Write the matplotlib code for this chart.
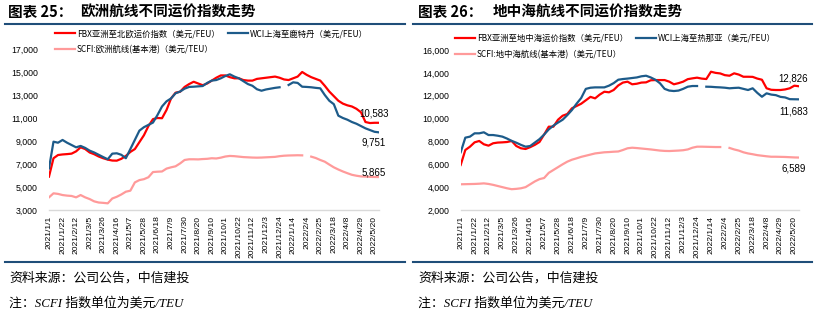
import numpy as np
import matplotlib
matplotlib.use('Agg')
import matplotlib.pyplot as plt
from matplotlib.lines import Line2D

plt.rcParams['font.family'] = ['Noto Sans CJK SC', 'DejaVu Sans']

# weekly, 2021/1/1 .. 2022/5/27 (74 points), None = missing week
tick_labels = ['2021/1/1', '2021/1/22', '2021/2/12', '2021/3/5', '2021/3/26', '2021/4/16',
               '2021/5/7', '2021/5/28', '2021/6/18', '2021/7/9', '2021/7/30', '2021/8/20',
               '2021/9/10', '2021/10/1', '2021/10/22', '2021/11/12', '2021/12/3', '2021/12/24',
               '2022/1/14', '2022/2/4', '2022/2/25', '2022/3/18', '2022/4/8', '2022/4/29',
               '2022/5/20']

eu_fbx = [5900, 7500, 7780, 7830, 7860, 7900, 8100, 8450, 8300, 8000,
          7850, 7650, 7500, 7380, 7300, 7290, 7450, 7700, 8050, 8300,
          8900, 9500, 10300, 10900, 11000, 10980, 11700, 12700, 13200, 13280,
          13700, 13950, 14150, 14000, 13850, 14000, 14250, 14500, 14700, 14700,
          14550, 14450, 14450, 14300, 14250, 14250, 14400, 14450, 14500, 14550,
          14600, 14500, 14350, 14300, 14450, 14600, 15000, 14750, 14550, 14400,
          14250, 13800, 13300, 12900, 12500, 12250, 12100, 12000, 11800, 11500,
          10650, 10560, 10583, 10583]
eu_wci = [6620, 8940, 8850, 9090, 8850, 8650, 8450, 8570, 8400, 8160,
          8000, 7800, 7600, 7410, 7900, 7930, 7800, 7500, 8300, 9100,
          9900, 10200, 10400, 10600, 11260, 12000, 12450, 12700, 13150, 13300,
          13550, 13700, 13720, 13750, 13780, 14050, 14250, 14300, 14450, 14650,
          14800, 14600, 14450, 14200, 13950, 13800, 13500, 13370, 13480, 13550,
          13620, 13670, None, 13870, 14100, 14050, 13720, 13700, 13670, 13620,
          13580, 13000, 12500, 12200, 11200, 11000, 10850, 10650, 10500, 10300,
          10100, 9950, 9800, 9751]
eu_scfi = [4100, 4450, 4400, 4300, 4250, 4220, 4100, 4300, 4100, 3950,
           3750, 3650, 3620, 3580, 4000, 4150, 4350, 4590, 4680, 5400,
           5600, 5680, 5850, 6300, 6330, 6350, 6600, 6710, 6800, 7050,
           7350, 7410, 7410, 7400, 7430, 7450, 7500, 7480, 7550, 7650,
           7700, 7680, 7640, 7600, 7580, 7560, 7550, 7560, 7580, 7600,
           7620, 7680, 7720, 7740, 7750, 7760, 7750, None, 7640, 7520,
           7350, 7200, 6950, 6710, 6520, 6350, 6200, 6060, 5980, 5920,
           5900, 5880, 5870, 5865]

med_fbx = [5940, 7250, 7540, 7920, 8040, 7750, 7630, 7840, 7900, 7920,
           7950, 8040, 7600, 7400, 7340, 7500, 7700, 7950, 8600, 9290,
           9290, 9900, 10250, 10400, 10900, 11100, 11300, 11600, 11900, 11770,
           12100, 12350, 12300, 12500, 12900, 13150, 13230, 13000, 13050, 13150,
           13170, 13350, 13370, 13370, 13370, 13230, 13000, 13100, 13230, 13450,
           13520, 13580, 13500, 13460, 14100, 14000, 13950, 13800, 13750, 13960,
           13850, 13660, 13660, 13650, 13500, 13400, 12650, 12520, 12500, 12500,
           12550, 12650, 12880, 12826]
med_wci = [7050, 8330, 8420, 8710, 8710, 8800, 8560, 8560, 8500, 8420,
           8250, 8050, 7890, 7700, 7540, 7600, 7900, 8200, 8600, 9050,
           9380, 9650, 9900, 10300, 10750, 11300, 11800, 12600, 12700, 12730,
           12730, 12730, 12880, 13100, 13400, 13460, 13500, 13550, 13600, 13700,
           13750, 13600, 13400, 13090, 12600, 12450, 12410, 12450, 12600, 12790,
           12850, 12850, None, 12790, 12780, 12750, 12730, 12700, 12650, 12680,
           12700, 12600, 12500, 12650, 12250, 11910, 12210, 12100, 12050, 11900,
           11850, 11700, 11690, 11683]
med_scfi = [4250, 4260, 4270, 4280, 4300, 4330, 4280, 4200, 4100, 4000,
            3900, 3820, 3850, 3900, 4000, 4250, 4500, 4700, 4800, 5250,
            5500, 5750, 6000, 6230, 6400, 6520, 6650, 6750, 6850, 6950,
            7000, 7050, 7070, 7100, 7120, 7250, 7400, 7450, 7420, 7380,
            7340, 7300, 7250, 7200, 7170, 7160, 7180, 7200, 7230, 7300,
            7450, 7540, 7540, 7530, 7520, 7510, 7510, None, 7430, 7300,
            7200, 7050, 6950, 6880, 6800, 6750, 6700, 6660, 6660, 6650,
            6640, 6620, 6600, 6589]

RED = '#FF0000'
BLUE = '#1D5B8A'
PINK = '#FF9A9A'
NAVY = '#1F4E79'
NUM = ['Liberation Sans', 'DejaVu Sans']


def arr(v):
    return np.array([np.nan if x is None else x for x in v], dtype=float)


def draw(ax, fbx, wci, scfi, names, ylim, labels_pos):
    x = np.arange(len(fbx))
    h1, = ax.plot(x, arr(fbx), color=RED, lw=1.6, label=names[0])
    h2, = ax.plot(x, arr(wci), color=BLUE, lw=1.6, label=names[1])
    h3, = ax.plot(x, arr(scfi), color=PINK, lw=1.6, label=names[2])
    ax.set_xlim(0, len(fbx) - 1)
    ax.set_ylim(*ylim)
    ax.set_yticks(np.arange(ylim[0], ylim[1] + 1, 2000))
    ax.set_yticklabels([f'{v:,}' for v in range(ylim[0], ylim[1] + 1, 2000)],
                       family=NUM, fontsize=6.3)
    ax.set_xticks(np.arange(0, len(fbx), 3))
    ax.set_xticklabels(tick_labels, rotation=90, family=NUM, fontsize=6.1)
    ax.tick_params(axis='both', length=0)
    ax.tick_params(axis='x', pad=4)
    ax.tick_params(axis='y', pad=8)
    for s in ['top', 'right', 'left']:
        ax.spines[s].set_visible(False)
    ax.spines['bottom'].set_color('#D9D9D9')
    ax.spines['bottom'].set_linewidth(1.0)
    # end values
    for val, yv in zip([fbx[-1], wci[-1], scfi[-1]], labels_pos):
        ax.text(len(fbx) - 2.2, yv, f'{val:,}', ha='center', va='center',
                family=NUM, fontsize=7)
    return [h1, h3, h2]


fig = plt.figure(figsize=(8.19, 3.21), dpi=100)

ax1 = fig.add_axes([0.0598, 0.3458, 0.4030, 0.5016])
ax2 = fig.add_axes([0.5625, 0.3458, 0.4131, 0.4984])

hs1 = draw(ax1, eu_fbx, eu_wci, eu_scfi,
           ['FBX亚洲至北欧运价指数（美元/FEU）', 'WCI上海至鹿特丹（美元/FEU）',
            'SCFI:欧洲航线(基本港)（美元/TEU）'],
           (3000, 17000), [11400, 8900, 6250])
hs2 = draw(ax2, med_fbx, med_wci, med_scfi,
           ['FBX亚洲至地中海运价指数（美元/FEU）', 'WCI上海至热那亚（美元/FEU）',
            'SCFI:地中海航线(基本港)（美元/TEU）'],
           (2000, 16000), [13550, 10650, 5600])

for hs, xa, ya in [(hs1, 55 / 819, 29), (hs2, 455 / 819, 34)]:
    fig.legend(handles=hs, loc='upper left', bbox_to_anchor=(xa, 1 - ya / 321),
               ncol=2, frameon=False, fontsize=6, handlelength=2.4,
               handletextpad=0.2, columnspacing=1.0, labelspacing=0.85,
               borderaxespad=0, borderpad=0)

# titles
fig.text(8 / 819, 1 - 12 / 321, '图表 25：', fontsize=10.5, weight='bold', va='center')
fig.text(80 / 819, 1 - 12 / 321, '欧洲航线不同运价指数走势', fontsize=10.5, weight='bold', va='center')
fig.text(418 / 819, 1 - 12 / 321, '图表 26：', fontsize=10.5, weight='bold', va='center')
fig.text(493 / 819, 1 - 12 / 321, '地中海航线不同运价指数走势', fontsize=10.5, weight='bold', va='center')

for x0, x1 in [(5, 405), (413, 812)]:
    for yy in [24, 262]:
        fig.add_artist(Line2D([x0 / 819, x1 / 819], [1 - yy / 321, 1 - yy / 321],
                              color=NAVY, lw=1.5))

SRC = ['Liberation Serif', 'Noto Sans CJK SC']
for x0 in [9, 418]:
    fig.text(x0 / 819, 1 - 278 / 321, '资料来源：公司公告，中信建投', fontsize=9.3,
             style='italic', family=SRC, va='center')
    fig.text(x0 / 819, 1 - 303 / 321, '注：SCFI 指数单位为美元/TEU', fontsize=9.3,
             style='italic', family=SRC, va='center')

fig.savefig('out.png', dpi=100)
